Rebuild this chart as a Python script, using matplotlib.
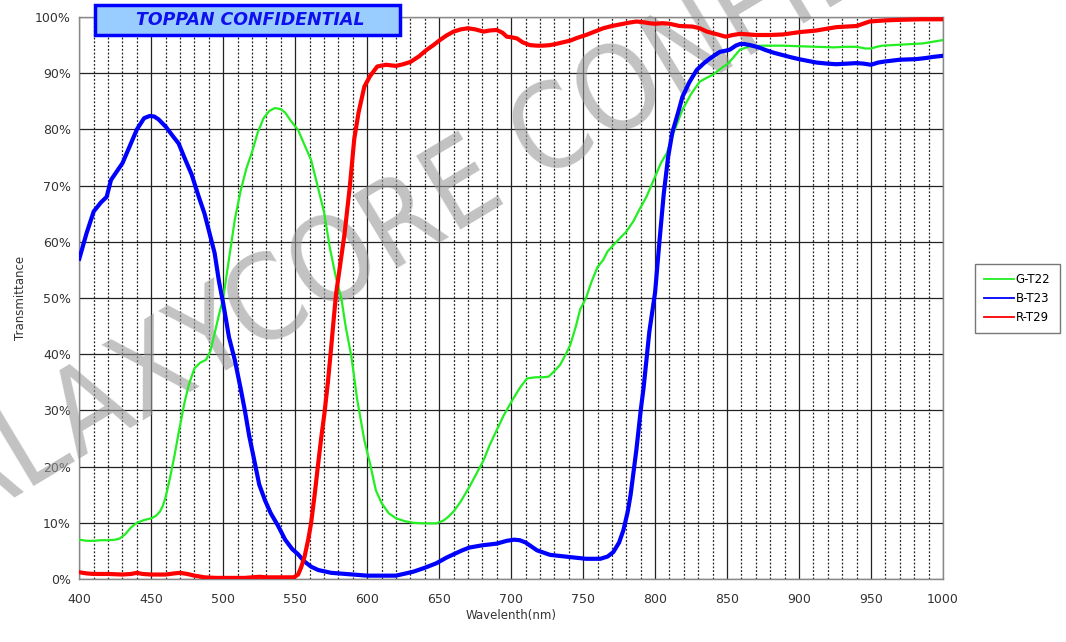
import matplotlib
matplotlib.use("Agg")
import matplotlib.pyplot as plt
from matplotlib import font_manager
from matplotlib.patches import Rectangle
from matplotlib.ticker import MultipleLocator

# ---- data (wavelength nm, transmittance %) ----
blue_wl = [400, 405, 410, 415, 419, 422, 426, 430, 435, 440, 445, 449, 452, 455, 460, 465, 469, 473,
           478, 483, 487, 491, 494, 497, 500, 504, 508, 512, 515, 518, 521, 525, 529, 533, 538, 543,
           548, 552, 556, 561, 566, 575, 585, 600, 620, 632, 640, 648, 655, 660, 666, 671, 680, 690,
           697, 702, 706, 710, 714, 718, 727, 741, 752, 762, 767, 771, 775, 778, 781, 783, 785, 787,
           790, 792, 794, 796, 800, 803, 806, 809, 812, 816, 819, 824, 829, 834, 838, 842, 845, 849,
           852, 856, 859, 862, 866, 872, 877, 883, 889, 895, 900, 906, 912, 920, 926, 933, 940, 945,
           950, 955, 960, 970, 981, 988, 993, 1000]
blue_val = [57, 61.5, 65.4, 67, 68, 71, 72.5, 74, 77, 80, 82, 82.4, 82.3, 81.8, 80.5, 78.8, 77.5, 75,
            72, 68, 65, 61, 58, 53, 49, 43, 39, 34, 30, 25.5, 21.8, 16.8, 14, 11.7, 9.5, 7,
            5.3, 4.4, 3.2, 2.2, 1.6, 1.1, 0.9, 0.6, 0.6, 1.3, 2, 2.8, 3.8, 4.4, 5.1, 5.6, 6, 6.3,
            6.8, 7, 6.9, 6.5, 5.8, 5.1, 4.3, 3.9, 3.6, 3.6, 4, 4.8, 6.5, 8.7, 12, 15, 19, 23,
            30, 34, 39, 44, 51, 60, 68.5, 75, 79.5, 83, 85.8, 88.5, 90.6, 91.8, 92.6, 93.3, 93.8, 94,
            94.2, 94.9, 95.2, 95.2, 95, 94.6, 94.1, 93.6, 93.2, 92.8, 92.5, 92.2, 91.9, 91.7, 91.6, 91.7, 91.8, 91.7,
            91.5, 91.9, 92.1, 92.4, 92.5, 92.7, 92.9, 93.1]

green_wl = [400, 405, 410, 415, 420, 425, 428, 432, 436, 440, 445, 450, 453, 456, 458, 460, 463, 466,
            469, 473, 476, 480, 484, 488, 491, 494, 497, 500, 504, 508, 512, 516, 520, 524, 528, 532,
            536, 540, 543, 547, 552, 556, 561, 565, 570, 574, 578, 582, 585, 589, 593, 598, 602, 606,
            610, 615, 620, 626, 632, 640, 648, 653, 656, 660, 665, 671, 676, 681, 685, 690, 695, 701,
            706, 711, 717, 722, 726, 730, 734, 738, 741, 745, 748, 752, 756, 760, 764, 767, 771, 775,
            780, 785, 789, 794, 799, 804, 808, 813, 819, 825, 831, 836, 840, 845, 851, 855, 859, 866,
            875, 889, 900, 912, 924, 932, 940, 946, 950, 954, 958, 965, 972, 986, 993, 1000]
green_val = [7, 6.8, 6.8, 6.9, 6.9, 7, 7.2, 8, 9.2, 10, 10.5, 10.8, 11.2, 12, 13, 14.6, 18, 21.8,
             26, 31.3, 34.5, 37.5, 38.5, 39, 40.5, 43.7, 47, 50, 57, 63.9, 69, 73, 76, 79.5, 82, 83.3,
             83.8, 83.6, 83, 81.5, 79.9, 77.5, 74.6, 70.5, 65.3, 59, 54, 50, 45, 39.6, 32, 24.7, 20.5, 15.8,
             13.5, 11.7, 10.8, 10.3, 10, 9.9, 9.9, 10.4, 11, 12, 13.8, 16.4, 18.8, 21.2, 23.8, 26.5, 29.2, 31.9,
             34, 35.7, 35.9, 35.9, 36, 37, 38.1, 40, 41.6, 45, 48, 50, 53, 55.5, 56.8, 58.3, 59.4, 60.5,
             61.8, 63.7, 65.7, 68, 71, 74, 75.7, 79.5, 83.5, 86.3, 88.5, 89.2, 89.7, 90.7, 91.8, 93, 94.2, 94.8,
             94.9, 94.9, 94.8, 94.7, 94.6, 94.7, 94.7, 94.4, 94.4, 94.7, 94.9, 95, 95.1, 95.3, 95.6, 95.9]

red_wl = [400, 405, 410, 420, 430, 436, 440, 444, 450, 460, 466, 470, 475, 480, 487, 495, 505, 515,
          520, 525, 530, 540, 549, 552, 554, 556.5, 559, 561, 563.5, 565.7, 568, 570.3, 572.7, 575,
          577, 578.4, 581, 584.3, 588, 591, 594, 598, 602, 607, 613, 620, 625, 630, 636, 641, 646,
          650.5, 655, 660, 665, 670, 675, 681, 685, 690, 694, 697, 700, 704, 708, 713, 718, 722, 727,
          731, 736, 741, 746, 752, 758, 764, 770, 778, 782, 787, 791, 796, 800, 805, 810, 817, 826,
          831, 836, 842, 849, 854, 859, 865, 870, 880, 889, 900, 912, 926, 940, 949, 960, 970, 985, 1000]
red_val = [1.2, 1, 0.9, 0.9, 0.8, 0.9, 1.1, 0.9, 0.8, 0.8, 1, 1.1, 0.9, 0.6, 0.3, 0.2, 0.2, 0.2,
           0.3, 0.4, 0.3, 0.3, 0.3, 0.8, 2, 4, 7, 9.9, 15, 20, 25, 29.5, 35, 41.3,
           47, 50.8, 55.5, 61.5, 70, 78.3, 83, 87.6, 89.5, 91.2, 91.5, 91.3, 91.6, 92, 93, 94.1, 95,
           95.9, 96.7, 97.4, 97.8, 98, 97.8, 97.4, 97.6, 97.7, 97.2, 96.5, 96.4, 96.2, 95.5, 95, 94.9, 94.9, 95,
           95.2, 95.5, 95.8, 96.3, 96.8, 97.4, 98, 98.4, 98.8, 99, 99.2, 99.1, 98.9, 98.8, 98.9, 98.8, 98.4, 98.3,
           98, 97.4, 97, 96.5, 96.8, 97, 96.9, 96.8, 96.8, 96.9, 97.3, 97.6, 98.2, 98.4, 99.2, 99.4, 99.5, 99.6, 99.6]

y_ticks = [0, 10, 20, 30, 40, 50, 60, 70, 80, 90, 100]
y_labels = [f"{v}%" for v in y_ticks]
x_ticks = [400, 450, 500, 550, 600, 650, 700, 750, 800, 850, 900, 950, 1000]

# narrow font for the watermark if one is installed, else plain DejaVu
wm_font = None
for f in font_manager.fontManager.ttflist:
    st = str(f.stretch).lower()
    if ("narrow" in f.name.lower() or "condensed" in f.name.lower() or "condensed" in st) \
            and f.weight in (400, "normal", "regular") and f.style == "normal":
        wm_font = font_manager.FontProperties(fname=f.fname)
        break
if wm_font is None:
    wm_font = font_manager.FontProperties(family="DejaVu Sans")

fig = plt.figure(figsize=(10.66, 6.42), dpi=100)
ax = fig.add_axes([0.0744, 0.0981, 0.8102, 0.8754])

ax.set_xlim(400, 1000)
ax.set_ylim(0, 100)
ax.set_xticks(x_ticks)
ax.set_yticks(y_ticks)
ax.set_yticklabels(y_labels)
ax.xaxis.set_minor_locator(MultipleLocator(10))
ax.tick_params(which="both", length=0, labelsize=9, colors="#333333")
ax.tick_params(axis="x", pad=10)
ax.tick_params(axis="y", pad=6)

ax.set_axisbelow(True)
ax.grid(True, which="major", axis="both", color="#222222", linewidth=0.9)
ax.grid(True, which="minor", axis="x", color="#222222", linewidth=0.9, linestyle=(0, (1.5, 1.5)))
for s in ax.spines.values():
    s.set_color("#888888")
    s.set_linewidth(1.0)

ax.set_xlabel("Wavelenth(nm)", fontsize=8.5, color="#333333", labelpad=2)
ax.set_ylabel("Transmittance", fontsize=8.5, color="#333333", labelpad=6)

# watermark, above the grid but below the curves; size it to ~66 px per letter
wm = ax.text(0.503, 0.772, "GALAXYCORE CONFIDENTIAL", transform=fig.transFigure,
             fontproperties=wm_font, fontsize=90, color="#9a9a9a", alpha=0.6,
             rotation=0, rotation_mode="anchor", ha="center", va="center",
             clip_on=False, zorder=1.5)
renderer = fig.canvas.get_renderer()
w = wm.get_window_extent(renderer).width
wm.set_fontsize(90 * 23 * 67 / w)
wm.set_rotation(31)

ax.plot(green_wl, green_val, color="#22ee22", linewidth=1.6, label="G-T22", zorder=3)
ax.plot(blue_wl, blue_val, color="#0000ff", linewidth=3.0, label="B-T23", zorder=4)
ax.plot(red_wl, red_val, color="#ff0000", linewidth=3.0, label="R-T29", zorder=5)

# "TOPPAN CONFIDENTIAL" stamp
fig.patches.append(Rectangle((0.0891, 0.9455), 0.2861, 0.0467, transform=fig.transFigure,
                             facecolor="#99ccff", edgecolor="#0000ff", linewidth=2.5, zorder=9))
fig.text(0.2345, 0.9695, "TOPPAN CONFIDENTIAL", fontsize=12.5, fontweight="bold", style="italic",
         color="#1010ee", ha="center", va="center", zorder=10)

handles, labels = ax.get_legend_handles_labels()
leg = fig.legend(handles, labels, loc="center left", bbox_to_anchor=(0.9146, 0.535),
                 fontsize=8.5, frameon=True, fancybox=False, edgecolor="#555555",
                 handlelength=2.5, handletextpad=0.15, labelspacing=0.5, borderpad=0.8,
                 borderaxespad=0)
leg.get_frame().set_linewidth(1.0)
for line in leg.get_lines():
    line.set_linewidth(1.3)

fig.savefig("out.png", dpi=100)
